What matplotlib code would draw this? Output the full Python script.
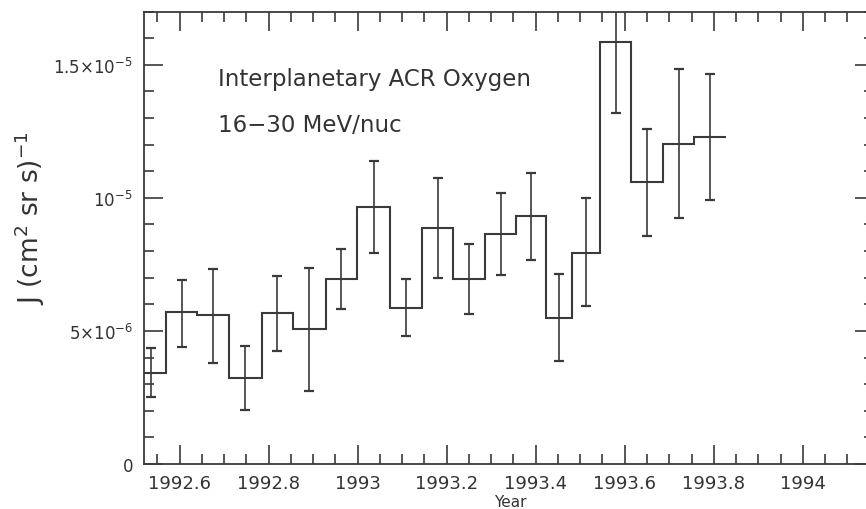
import numpy as np
import matplotlib.pyplot as plt
from matplotlib.ticker import FixedLocator, MultipleLocator

# bin edges (decimal year) for each averaging interval
edges = [1992.501, 1992.569, 1992.640, 1992.712, 1992.784, 1992.854, 1992.928,
         1992.999, 1993.073, 1993.145, 1993.215, 1993.287, 1993.356, 1993.423,
         1993.482, 1993.545, 1993.614, 1993.686, 1993.756, 1993.827]

# intensity per bin, units of 1e-6 (cm^2 sr s)^-1
flux = [3.42, 5.70, 5.58, 3.22, 5.68, 5.08, 6.95, 9.67, 5.86, 8.85,
        6.94, 8.63, 9.30, 5.50, 7.94, 15.84, 10.59, 12.03, 12.29]
flux_hi = [4.36, 6.93, 7.33, 4.42, 7.07, 7.38, 8.07, 11.38, 6.94, 10.73,
           8.26, 10.18, 10.94, 7.15, 10.00, 18.50, 12.59, 14.84, 14.65]
flux_lo = [2.52, 4.40, 3.80, 2.03, 4.24, 2.76, 5.84, 7.91, 4.80, 6.97,
           5.65, 7.11, 7.67, 3.87, 5.94, 13.18, 8.56, 9.24, 9.92]

year_ticks = [1992.6, 1992.8, 1993.0, 1993.2, 1993.4, 1993.6, 1993.8, 1994.0]
year_labels = ['1992.6', '1992.8', '1993', '1993.2', '1993.4', '1993.6', '1993.8', '1994']
j_ticks = [0, 5e-6, 1e-5, 1.5e-5]
j_labels = ['0', r'5$\times$10$^{-6}$', r'10$^{-5}$', r'1.5$\times$10$^{-5}$']

ink = '#3a3a3a'

edges = np.array(edges)
flux = np.array(flux) * 1e-6
hi = np.array(flux_hi) * 1e-6
lo = np.array(flux_lo) * 1e-6
centers = 0.5 * (edges[:-1] + edges[1:])

fig = plt.figure(figsize=(8.66, 5.10), dpi=100)
ax = fig.add_axes([144 / 866, 45 / 510, 730 / 866, 452.5 / 510])

ax.stairs(flux, edges, baseline=None, color=ink, lw=1.5)
ax.errorbar(centers, flux, yerr=[flux - lo, hi - flux], fmt='none',
            ecolor=ink, elinewidth=1.2, capsize=3.3, capthick=1.6)

ax.set_xlim(1992.52, 1994.16)
ax.set_ylim(0, 1.7e-5)

ax.xaxis.set_major_locator(FixedLocator(year_ticks))
ax.set_xticklabels(year_labels)
ax.xaxis.set_minor_locator(MultipleLocator(0.05))
ax.yaxis.set_major_locator(FixedLocator(j_ticks))
ax.set_yticklabels(j_labels)
ax.yaxis.set_minor_locator(MultipleLocator(1e-6))

ax.tick_params(which='both', direction='in', top=True, right=True,
               color=ink, width=1.2, labelcolor='#333333')
ax.tick_params(which='major', length=14)
ax.tick_params(which='minor', length=7)
ax.tick_params(axis='x', labelsize=13, pad=7)
ax.tick_params(axis='y', labelsize=12, pad=8)
for s in ax.spines.values():
    s.set_color(ink)
    s.set_linewidth(1.3)

ax.text(0.101, 0.851, 'Interplanetary ACR Oxygen', transform=ax.transAxes,
        fontsize=16.5, color='#333333', va='center')
ax.text(0.101, 0.751, '16\u221230 MeV/nuc', transform=ax.transAxes,
        fontsize=16.5, color='#333333', va='center')

fig.text(30 / 866, 0.573, r'J (cm$^2$ sr s)$^{-1}$', rotation=90,
         ha='center', va='center', fontsize=19, color='#333333')
fig.text(510 / 866, 7 / 510, 'Year', ha='center', va='center',
         fontsize=11, color='#333333')

fig.savefig('out.png', dpi=100)
